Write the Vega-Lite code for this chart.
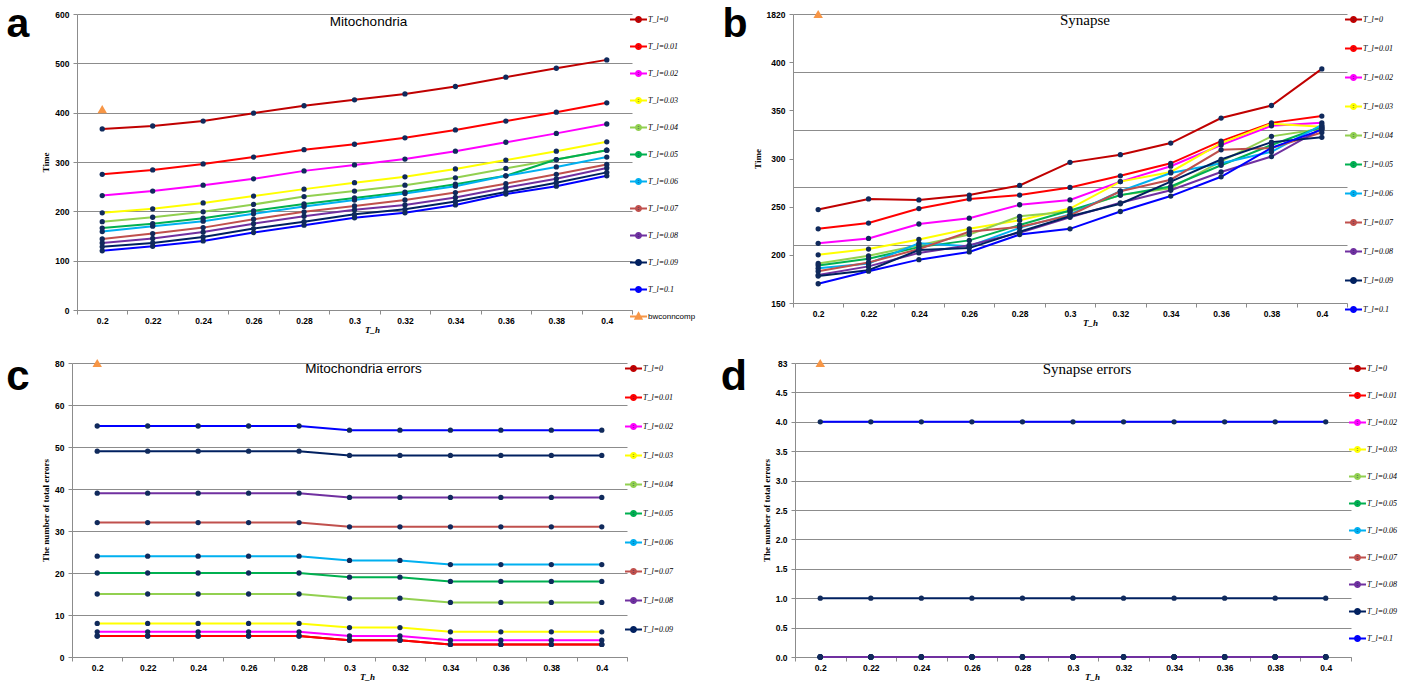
{
  "$schema": "https://vega.github.io/schema/vega-lite/v6.json",
  "padding": 0,
  "background": "white",
  "datasets": {
    "mito": [
      {"th": 0.2, "T_l=0": 367, "T_l=0.01": 275, "T_l=0.02": 232, "T_l=0.03": 197, "T_l=0.04": 179, "T_l=0.05": 166, "T_l=0.06": 159, "T_l=0.07": 144, "T_l=0.08": 136, "T_l=0.09": 128, "T_l=0.1": 120, "bwconncomp": 407},
      {"th": 0.22, "T_l=0": 373, "T_l=0.01": 284, "T_l=0.02": 241, "T_l=0.03": 205, "T_l=0.04": 188, "T_l=0.05": 175, "T_l=0.06": 170, "T_l=0.07": 155, "T_l=0.08": 145, "T_l=0.09": 136, "T_l=0.1": 129},
      {"th": 0.24, "T_l=0": 383, "T_l=0.01": 296, "T_l=0.02": 253, "T_l=0.03": 217, "T_l=0.04": 199, "T_l=0.05": 186, "T_l=0.06": 180, "T_l=0.07": 167, "T_l=0.08": 158, "T_l=0.09": 148, "T_l=0.1": 140},
      {"th": 0.26, "T_l=0": 399, "T_l=0.01": 310, "T_l=0.02": 266, "T_l=0.03": 231, "T_l=0.04": 214, "T_l=0.05": 201, "T_l=0.06": 195, "T_l=0.07": 184, "T_l=0.08": 175, "T_l=0.09": 165, "T_l=0.1": 157},
      {"th": 0.28, "T_l=0": 414, "T_l=0.01": 325, "T_l=0.02": 282, "T_l=0.03": 245, "T_l=0.04": 230, "T_l=0.05": 215, "T_l=0.06": 210, "T_l=0.07": 199, "T_l=0.08": 190, "T_l=0.09": 179, "T_l=0.1": 172},
      {"th": 0.3, "T_l=0": 426, "T_l=0.01": 336, "T_l=0.02": 294, "T_l=0.03": 258, "T_l=0.04": 241, "T_l=0.05": 227, "T_l=0.06": 223, "T_l=0.07": 211, "T_l=0.08": 203, "T_l=0.09": 194, "T_l=0.1": 187},
      {"th": 0.32, "T_l=0": 438, "T_l=0.01": 349, "T_l=0.02": 306, "T_l=0.03": 270, "T_l=0.04": 253, "T_l=0.05": 239, "T_l=0.06": 236, "T_l=0.07": 223, "T_l=0.08": 213, "T_l=0.09": 204, "T_l=0.1": 197},
      {"th": 0.34, "T_l=0": 453, "T_l=0.01": 365, "T_l=0.02": 322, "T_l=0.03": 286, "T_l=0.04": 268, "T_l=0.05": 255, "T_l=0.06": 251, "T_l=0.07": 238, "T_l=0.08": 228, "T_l=0.09": 220, "T_l=0.1": 213},
      {"th": 0.36, "T_l=0": 472, "T_l=0.01": 383, "T_l=0.02": 340, "T_l=0.03": 304, "T_l=0.04": 287, "T_l=0.05": 272, "T_l=0.06": 272, "T_l=0.07": 256, "T_l=0.08": 248, "T_l=0.09": 239, "T_l=0.1": 235},
      {"th": 0.38, "T_l=0": 490, "T_l=0.01": 401, "T_l=0.02": 358, "T_l=0.03": 322, "T_l=0.04": 305, "T_l=0.05": 305, "T_l=0.06": 290, "T_l=0.07": 275, "T_l=0.08": 266, "T_l=0.09": 258, "T_l=0.1": 251},
      {"th": 0.4, "T_l=0": 507, "T_l=0.01": 420, "T_l=0.02": 377, "T_l=0.03": 341, "T_l=0.04": 324, "T_l=0.05": 324, "T_l=0.06": 310, "T_l=0.07": 295, "T_l=0.08": 288, "T_l=0.09": 279, "T_l=0.1": 272}
    ],
    "syn": [
      {"th": 0.2, "T_l=0": 247, "T_l=0.01": 227, "T_l=0.02": 212, "T_l=0.03": 200, "T_l=0.04": 191, "T_l=0.05": 189, "T_l=0.06": 186, "T_l=0.07": 183, "T_l=0.08": 179, "T_l=0.09": 178, "T_l=0.1": 170, "bwconncomp": 1820},
      {"th": 0.22, "T_l=0": 258, "T_l=0.01": 233, "T_l=0.02": 217, "T_l=0.03": 206, "T_l=0.04": 199, "T_l=0.05": 196, "T_l=0.06": 191, "T_l=0.07": 192, "T_l=0.08": 188, "T_l=0.09": 184, "T_l=0.1": 183},
      {"th": 0.24, "T_l=0": 257, "T_l=0.01": 248, "T_l=0.02": 232, "T_l=0.03": 216, "T_l=0.04": 210, "T_l=0.05": 208, "T_l=0.06": 212, "T_l=0.07": 206, "T_l=0.08": 202, "T_l=0.09": 205, "T_l=0.1": 195},
      {"th": 0.26, "T_l=0": 262, "T_l=0.01": 258, "T_l=0.02": 238, "T_l=0.03": 227, "T_l=0.04": 221, "T_l=0.05": 215, "T_l=0.06": 209, "T_l=0.07": 224, "T_l=0.08": 210, "T_l=0.09": 207, "T_l=0.1": 203},
      {"th": 0.28, "T_l=0": 272, "T_l=0.01": 262, "T_l=0.02": 252, "T_l=0.03": 236, "T_l=0.04": 240, "T_l=0.05": 231, "T_l=0.06": 228, "T_l=0.07": 229, "T_l=0.08": 223, "T_l=0.09": 224, "T_l=0.1": 221},
      {"th": 0.3, "T_l=0": 296, "T_l=0.01": 270, "T_l=0.02": 257, "T_l=0.03": 248, "T_l=0.04": 245, "T_l=0.05": 246, "T_l=0.06": 242, "T_l=0.07": 241, "T_l=0.08": 239, "T_l=0.09": 240, "T_l=0.1": 227},
      {"th": 0.32, "T_l=0": 304, "T_l=0.01": 282, "T_l=0.02": 276, "T_l=0.03": 276, "T_l=0.04": 262, "T_l=0.05": 262, "T_l=0.06": 266, "T_l=0.07": 266, "T_l=0.08": 254, "T_l=0.09": 253, "T_l=0.1": 245},
      {"th": 0.34, "T_l=0": 316, "T_l=0.01": 295, "T_l=0.02": 292, "T_l=0.03": 286, "T_l=0.04": 269, "T_l=0.05": 271, "T_l=0.06": 285, "T_l=0.07": 278, "T_l=0.08": 267, "T_l=0.09": 276, "T_l=0.1": 261},
      {"th": 0.36, "T_l=0": 342, "T_l=0.01": 318, "T_l=0.02": 314, "T_l=0.03": 316, "T_l=0.04": 297, "T_l=0.05": 293, "T_l=0.06": 295, "T_l=0.07": 309, "T_l=0.08": 286, "T_l=0.09": 299, "T_l=0.1": 281},
      {"th": 0.38, "T_l=0": 355, "T_l=0.01": 337, "T_l=0.02": 334, "T_l=0.03": 336, "T_l=0.04": 323, "T_l=0.05": 314, "T_l=0.06": 307, "T_l=0.07": 311, "T_l=0.08": 302, "T_l=0.09": 317, "T_l=0.1": 311},
      {"th": 0.4, "T_l=0": 393, "T_l=0.01": 344, "T_l=0.02": 337, "T_l=0.03": 333, "T_l=0.04": 331, "T_l=0.05": 333, "T_l=0.06": 335, "T_l=0.07": 327, "T_l=0.08": 331, "T_l=0.09": 322, "T_l=0.1": 330}
    ],
    "mitoerr": [
      {"th": 0.2, "T_l=0": 5, "T_l=0.01": 5, "T_l=0.02": 6, "T_l=0.03": 8, "T_l=0.04": 15, "T_l=0.05": 20, "T_l=0.06": 24, "T_l=0.07": 32, "T_l=0.08": 39, "T_l=0.09": 49, "T_l=0.1": 55, "bwconncomp": 80},
      {"th": 0.22, "T_l=0": 5, "T_l=0.01": 5, "T_l=0.02": 6, "T_l=0.03": 8, "T_l=0.04": 15, "T_l=0.05": 20, "T_l=0.06": 24, "T_l=0.07": 32, "T_l=0.08": 39, "T_l=0.09": 49, "T_l=0.1": 55},
      {"th": 0.24, "T_l=0": 5, "T_l=0.01": 5, "T_l=0.02": 6, "T_l=0.03": 8, "T_l=0.04": 15, "T_l=0.05": 20, "T_l=0.06": 24, "T_l=0.07": 32, "T_l=0.08": 39, "T_l=0.09": 49, "T_l=0.1": 55},
      {"th": 0.26, "T_l=0": 5, "T_l=0.01": 5, "T_l=0.02": 6, "T_l=0.03": 8, "T_l=0.04": 15, "T_l=0.05": 20, "T_l=0.06": 24, "T_l=0.07": 32, "T_l=0.08": 39, "T_l=0.09": 49, "T_l=0.1": 55},
      {"th": 0.28, "T_l=0": 5, "T_l=0.01": 5, "T_l=0.02": 6, "T_l=0.03": 8, "T_l=0.04": 15, "T_l=0.05": 20, "T_l=0.06": 24, "T_l=0.07": 32, "T_l=0.08": 39, "T_l=0.09": 49, "T_l=0.1": 55},
      {"th": 0.3, "T_l=0": 4, "T_l=0.01": 4, "T_l=0.02": 5, "T_l=0.03": 7, "T_l=0.04": 14, "T_l=0.05": 19, "T_l=0.06": 23, "T_l=0.07": 31, "T_l=0.08": 38, "T_l=0.09": 48, "T_l=0.1": 54},
      {"th": 0.32, "T_l=0": 4, "T_l=0.01": 4, "T_l=0.02": 5, "T_l=0.03": 7, "T_l=0.04": 14, "T_l=0.05": 19, "T_l=0.06": 23, "T_l=0.07": 31, "T_l=0.08": 38, "T_l=0.09": 48, "T_l=0.1": 54},
      {"th": 0.34, "T_l=0": 3, "T_l=0.01": 3, "T_l=0.02": 4, "T_l=0.03": 6, "T_l=0.04": 13, "T_l=0.05": 18, "T_l=0.06": 22, "T_l=0.07": 31, "T_l=0.08": 38, "T_l=0.09": 48, "T_l=0.1": 54},
      {"th": 0.36, "T_l=0": 3, "T_l=0.01": 3, "T_l=0.02": 4, "T_l=0.03": 6, "T_l=0.04": 13, "T_l=0.05": 18, "T_l=0.06": 22, "T_l=0.07": 31, "T_l=0.08": 38, "T_l=0.09": 48, "T_l=0.1": 54},
      {"th": 0.38, "T_l=0": 3, "T_l=0.01": 3, "T_l=0.02": 4, "T_l=0.03": 6, "T_l=0.04": 13, "T_l=0.05": 18, "T_l=0.06": 22, "T_l=0.07": 31, "T_l=0.08": 38, "T_l=0.09": 48, "T_l=0.1": 54},
      {"th": 0.4, "T_l=0": 3, "T_l=0.01": 3, "T_l=0.02": 4, "T_l=0.03": 6, "T_l=0.04": 13, "T_l=0.05": 18, "T_l=0.06": 22, "T_l=0.07": 31, "T_l=0.08": 38, "T_l=0.09": 48, "T_l=0.1": 54}
    ],
    "synerr": [
      {"th": 0.2, "T_l=0": 0, "T_l=0.01": 0, "T_l=0.02": 0, "T_l=0.03": 0, "T_l=0.04": 0, "T_l=0.05": 0, "T_l=0.06": 0, "T_l=0.07": 0, "T_l=0.08": 0, "T_l=0.09": 1, "T_l=0.1": 4, "bwconncomp": 83},
      {"th": 0.22, "T_l=0": 0, "T_l=0.01": 0, "T_l=0.02": 0, "T_l=0.03": 0, "T_l=0.04": 0, "T_l=0.05": 0, "T_l=0.06": 0, "T_l=0.07": 0, "T_l=0.08": 0, "T_l=0.09": 1, "T_l=0.1": 4},
      {"th": 0.24, "T_l=0": 0, "T_l=0.01": 0, "T_l=0.02": 0, "T_l=0.03": 0, "T_l=0.04": 0, "T_l=0.05": 0, "T_l=0.06": 0, "T_l=0.07": 0, "T_l=0.08": 0, "T_l=0.09": 1, "T_l=0.1": 4},
      {"th": 0.26, "T_l=0": 0, "T_l=0.01": 0, "T_l=0.02": 0, "T_l=0.03": 0, "T_l=0.04": 0, "T_l=0.05": 0, "T_l=0.06": 0, "T_l=0.07": 0, "T_l=0.08": 0, "T_l=0.09": 1, "T_l=0.1": 4},
      {"th": 0.28, "T_l=0": 0, "T_l=0.01": 0, "T_l=0.02": 0, "T_l=0.03": 0, "T_l=0.04": 0, "T_l=0.05": 0, "T_l=0.06": 0, "T_l=0.07": 0, "T_l=0.08": 0, "T_l=0.09": 1, "T_l=0.1": 4},
      {"th": 0.3, "T_l=0": 0, "T_l=0.01": 0, "T_l=0.02": 0, "T_l=0.03": 0, "T_l=0.04": 0, "T_l=0.05": 0, "T_l=0.06": 0, "T_l=0.07": 0, "T_l=0.08": 0, "T_l=0.09": 1, "T_l=0.1": 4},
      {"th": 0.32, "T_l=0": 0, "T_l=0.01": 0, "T_l=0.02": 0, "T_l=0.03": 0, "T_l=0.04": 0, "T_l=0.05": 0, "T_l=0.06": 0, "T_l=0.07": 0, "T_l=0.08": 0, "T_l=0.09": 1, "T_l=0.1": 4},
      {"th": 0.34, "T_l=0": 0, "T_l=0.01": 0, "T_l=0.02": 0, "T_l=0.03": 0, "T_l=0.04": 0, "T_l=0.05": 0, "T_l=0.06": 0, "T_l=0.07": 0, "T_l=0.08": 0, "T_l=0.09": 1, "T_l=0.1": 4},
      {"th": 0.36, "T_l=0": 0, "T_l=0.01": 0, "T_l=0.02": 0, "T_l=0.03": 0, "T_l=0.04": 0, "T_l=0.05": 0, "T_l=0.06": 0, "T_l=0.07": 0, "T_l=0.08": 0, "T_l=0.09": 1, "T_l=0.1": 4},
      {"th": 0.38, "T_l=0": 0, "T_l=0.01": 0, "T_l=0.02": 0, "T_l=0.03": 0, "T_l=0.04": 0, "T_l=0.05": 0, "T_l=0.06": 0, "T_l=0.07": 0, "T_l=0.08": 0, "T_l=0.09": 1, "T_l=0.1": 4},
      {"th": 0.4, "T_l=0": 0, "T_l=0.01": 0, "T_l=0.02": 0, "T_l=0.03": 0, "T_l=0.04": 0, "T_l=0.05": 0, "T_l=0.06": 0, "T_l=0.07": 0, "T_l=0.08": 0, "T_l=0.09": 1, "T_l=0.1": 4}
    ]
  },
  "config": {
    "view": {"stroke": null},
    "axis": {"labelFont": "Liberation Sans", "labelFontSize": 8.5, "labelFontWeight": "bold", "labelColor": "#000000", "domainColor": "#8c8c8c", "tickColor": "#8c8c8c", "gridColor": "#8c8c8c", "gridWidth": 1, "titleFont": "Liberation Serif", "titleFontWeight": "bold", "titleFontSize": 9, "titleColor": "#000000"},
    "legend": {"title": null, "orient": "right", "offset": 1, "padding": 0, "symbolType": "M-2,0H2M-0.6,0A0.6,0.6 0 1,0 0.6,0A0.6,0.6 0 1,0 -0.6,0Z", "symbolSize": 72, "symbolStrokeWidth": 2, "symbolFillColor": "#102a5c", "labelFont": "Liberation Serif", "labelFontStyle": "italic", "labelFontSize": 8, "labelColor": "#000000", "labelOffset": 4},
    "title": {"anchor": "middle", "frame": "group", "color": "#000000", "fontWeight": "normal"}
  },
  "resolve": {"scale": {"color": "independent"}, "legend": {"color": "independent"}},
  "spacing": 20,
  "vconcat": [
    {
      "spacing": 21,
      "resolve": {"scale": {"color": "independent"}, "legend": {"color": "independent"}},
      "hconcat": [
        {
          "spacing": 5,
          "resolve": {"scale": {"color": "independent"}, "legend": {"color": "independent"}},
          "hconcat": [
            {"width": 36, "height": 46, "data": {"values": [{"letter": "a"}]}, "mark": {"type": "text", "font": "Liberation Sans", "fontSize": 41, "fontWeight": "bold", "baseline": "alphabetic", "align": "center", "color": "#000000"}, "encoding": {"text": {"field": "letter"}}},
            {
              "width": 555, "height": 296,
              "data": {"name": "mito"},
              "transform": [{"fold": ["T_l=0", "T_l=0\\.01", "T_l=0\\.02", "T_l=0\\.03", "T_l=0\\.04", "T_l=0\\.05", "T_l=0\\.06", "T_l=0\\.07", "T_l=0\\.08", "T_l=0\\.09", "T_l=0\\.1", "bwconncomp"], "as": ["series", "v"]}],
              "title": {"text": "Mitochondria", "font": "Liberation Sans", "fontSize": 13.5, "offset": -28, "dx": 14},
              "layer": [
                {
                  "mark": {"type": "line", "strokeWidth": 2},
                  "encoding": {
                    "x": {"field": "th", "type": "ordinal", "scale": {"type": "band", "paddingInner": 0, "paddingOuter": 0}, "axis": {"orient": "bottom", "title": "T_h", "titleFontStyle": "italic", "tickBand": "extent", "labelAngle": 0, "tickSize": 4, "labelPadding": 2, "titlePadding": 1, "grid": false, "titleX": 295}},
                    "y": {"field": "v", "type": "quantitative", "scale": {"domain": [0, 600], "nice": false}, "axis": {"orient": "left", "title": "Time", "values": [0, 100, 200, 300, 400, 500, 600], "grid": true, "tickSize": 4, "labelPadding": 4, "titlePadding": 4}},
                    "color": {"field": "series", "type": "nominal",
                      "scale": {"domain": ["T_l=0", "T_l=0.01", "T_l=0.02", "T_l=0.03", "T_l=0.04", "T_l=0.05", "T_l=0.06", "T_l=0.07", "T_l=0.08", "T_l=0.09", "T_l=0.1", "bwconncomp"], "range": ["#C00000", "#FF0000", "#FF00FF", "#FFFF00", "#92D050", "#00B050", "#00B0F0", "#C0504D", "#7030A0", "#002060", "#0000FF", "#F79646"]},
                      "legend": {"rowPadding": 12,
                        "encode": {
                          "symbols": {"update": {"shape": {"signal": "datum.value === 'bwconncomp' ? 'M-2,0H2M0,-0.75L0.7,0.55L-0.7,0.55Z' : 'M-2,0H2M-0.6,0A0.6,0.6 0 1,0 0.6,0A0.6,0.6 0 1,0 -0.6,0Z'"}, "fill": {"signal": "datum.value === 'bwconncomp' ? '#F79646' : '#102a5c'"}}},
                          "labels": {"update": {"font": {"signal": "datum.value === 'bwconncomp' ? 'Liberation Sans' : 'Liberation Serif'"}, "fontStyle": {"signal": "datum.value === 'bwconncomp' ? 'normal' : 'italic'"}}}
                        }}}
                  }
                },
                {
                  "mark": {"type": "point", "filled": true, "opacity": 1, "strokeWidth": 0},
                  "encoding": {
                    "x": {"field": "th", "type": "ordinal", "scale": {"type": "band", "paddingInner": 0, "paddingOuter": 0}, "axis": {"orient": "top", "labels": false, "ticks": false, "domain": false, "grid": false, "title": null, "minExtent": 14, "maxExtent": 14}},
                    "y": {"field": "v", "type": "quantitative", "axis": {"orient": "right", "labels": false, "ticks": false, "domain": false, "grid": false, "title": null}},
                    "shape": {"condition": {"test": "datum.series === 'bwconncomp'", "value": "triangle-up"}, "value": "circle"},
                    "fill": {"condition": {"test": "datum.series === 'bwconncomp'", "value": "#F79646"}, "value": "#102a5c"},
                    "size": {"condition": {"test": "datum.series === 'bwconncomp'", "value": 90}, "value": 28}
                  }
                }
              ]
            }
          ]
        },
        {
          "spacing": 0,
          "resolve": {"scale": {"color": "independent"}, "legend": {"color": "independent"}},
          "hconcat": [
            {"width": 36, "height": 46, "data": {"values": [{"letter": "b"}]}, "mark": {"type": "text", "font": "Liberation Sans", "fontSize": 41, "fontWeight": "bold", "baseline": "alphabetic", "align": "center", "color": "#000000"}, "encoding": {"text": {"field": "letter"}}},
            {
              "width": 554, "height": 289,
              "data": {"name": "syn"},
              "transform": [{"fold": ["T_l=0", "T_l=0\\.01", "T_l=0\\.02", "T_l=0\\.03", "T_l=0\\.04", "T_l=0\\.05", "T_l=0\\.06", "T_l=0\\.07", "T_l=0\\.08", "T_l=0\\.09", "T_l=0\\.1", "bwconncomp"], "as": ["series", "v"]}],
              "title": {"text": "Synapse", "font": "Liberation Serif", "fontSize": 15, "offset": -28, "dx": 15},
              "layer": [
                {
                  "mark": {"type": "line", "strokeWidth": 2},
                  "encoding": {
                    "x": {"field": "th", "type": "ordinal", "scale": {"type": "band", "paddingInner": 0, "paddingOuter": 0}, "axis": {"orient": "bottom", "title": "T_h", "titleFontStyle": "italic", "tickBand": "extent", "labelAngle": 0, "tickSize": 4, "labelPadding": 2, "titlePadding": 1, "grid": false, "titleX": 297}},
                    "y": {"field": "v", "type": "quantitative", "scale": {"domain": [150, 450], "nice": false, "clamp": true}, "axis": {"orient": "left", "title": "Time", "values": [150, 200, 250, 300, 350, 400, 450], "labelExpr": "datum.value == 450 ? '1820' : datum.label", "grid": false, "tickSize": 4, "labelPadding": 4, "titlePadding": 4}},
                    "color": {"field": "series", "type": "nominal",
                      "scale": {"domain": ["T_l=0", "T_l=0.01", "T_l=0.02", "T_l=0.03", "T_l=0.04", "T_l=0.05", "T_l=0.06", "T_l=0.07", "T_l=0.08", "T_l=0.09", "T_l=0.1", "bwconncomp"], "range": ["#C00000", "#FF0000", "#FF00FF", "#FFFF00", "#92D050", "#00B050", "#00B0F0", "#C0504D", "#7030A0", "#002060", "#0000FF", "#F79646"]},
                      "legend": {"rowPadding": 14, "values": ["T_l=0", "T_l=0.01", "T_l=0.02", "T_l=0.03", "T_l=0.04", "T_l=0.05", "T_l=0.06", "T_l=0.07", "T_l=0.08", "T_l=0.09", "T_l=0.1"]}}
                  }
                },
                {
                  "mark": {"type": "point", "filled": true, "opacity": 1, "strokeWidth": 0},
                  "encoding": {
                    "x": {"field": "th", "type": "ordinal", "scale": {"type": "band", "paddingInner": 0, "paddingOuter": 0}, "axis": {"orient": "top", "labels": false, "ticks": false, "domain": false, "grid": false, "title": null, "minExtent": 14, "maxExtent": 14}},
                    "y": {"field": "v", "type": "quantitative", "axis": {"orient": "right", "values": [210, 270, 330, 390, 450], "grid": true, "labels": false, "ticks": false, "domain": false, "title": null}},
                    "shape": {"condition": {"test": "datum.series === 'bwconncomp'", "value": "triangle-up"}, "value": "circle"},
                    "fill": {"condition": {"test": "datum.series === 'bwconncomp'", "value": "#F79646"}, "value": "#102a5c"},
                    "size": {"condition": {"test": "datum.series === 'bwconncomp'", "value": 90}, "value": 28}
                  }
                }
              ]
            }
          ]
        }
      ]
    },
    {
      "spacing": 42,
      "resolve": {"scale": {"color": "independent"}, "legend": {"color": "independent"}},
      "hconcat": [
        {
          "spacing": 5,
          "resolve": {"scale": {"color": "independent"}, "legend": {"color": "independent"}},
          "hconcat": [
            {"width": 36, "height": 54, "data": {"values": [{"letter": "c"}]}, "mark": {"type": "text", "font": "Liberation Sans", "fontSize": 42, "fontWeight": "bold", "baseline": "alphabetic", "align": "center", "color": "#000000"}, "encoding": {"text": {"field": "letter"}}},
            {
              "width": 555, "height": 294,
              "data": {"name": "mitoerr"},
              "transform": [{"fold": ["T_l=0", "T_l=0\\.01", "T_l=0\\.02", "T_l=0\\.03", "T_l=0\\.04", "T_l=0\\.05", "T_l=0\\.06", "T_l=0\\.07", "T_l=0\\.08", "T_l=0\\.09", "T_l=0\\.1", "bwconncomp"], "as": ["series", "v"]}],
              "title": {"text": "Mitochondria errors", "font": "Liberation Sans", "fontSize": 13.5, "offset": -20, "dx": 14},
              "layer": [
                {
                  "mark": {"type": "line", "strokeWidth": 2},
                  "encoding": {
                    "x": {"field": "th", "type": "ordinal", "scale": {"type": "band", "paddingInner": 0, "paddingOuter": 0}, "axis": {"orient": "bottom", "title": "T_h", "titleFontStyle": "italic", "tickBand": "extent", "labelAngle": 0, "tickSize": 4, "labelPadding": 2, "titlePadding": 1, "grid": false, "titleX": 295}},
                    "y": {"field": "v", "type": "quantitative", "scale": {"domain": [0, 70], "nice": false, "clamp": true}, "axis": {"orient": "left", "title": "The number of  total errors", "values": [0, 10, 20, 30, 40, 50, 60, 70], "labelExpr": "datum.value == 70 ? '80' : datum.label", "grid": true, "tickSize": 4, "labelPadding": 4, "titlePadding": 4}},
                    "color": {"field": "series", "type": "nominal",
                      "scale": {"domain": ["T_l=0", "T_l=0.01", "T_l=0.02", "T_l=0.03", "T_l=0.04", "T_l=0.05", "T_l=0.06", "T_l=0.07", "T_l=0.08", "T_l=0.09", "T_l=0.1", "bwconncomp"], "range": ["#C00000", "#FF0000", "#FF00FF", "#FFFF00", "#92D050", "#00B050", "#00B0F0", "#C0504D", "#7030A0", "#002060", "#0000FF", "#F79646"]},
                      "legend": {"rowPadding": 14, "values": ["T_l=0", "T_l=0.01", "T_l=0.02", "T_l=0.03", "T_l=0.04", "T_l=0.05", "T_l=0.06", "T_l=0.07", "T_l=0.08", "T_l=0.09"]}}
                  }
                },
                {
                  "mark": {"type": "point", "filled": true, "opacity": 1, "strokeWidth": 0},
                  "encoding": {
                    "x": {"field": "th", "type": "ordinal", "scale": {"type": "band", "paddingInner": 0, "paddingOuter": 0}, "axis": {"orient": "top", "labels": false, "ticks": false, "domain": false, "grid": false, "title": null, "minExtent": 8, "maxExtent": 8}},
                    "y": {"field": "v", "type": "quantitative", "axis": {"orient": "right", "labels": false, "ticks": false, "domain": false, "grid": false, "title": null}},
                    "shape": {"condition": {"test": "datum.series === 'bwconncomp'", "value": "triangle-up"}, "value": "circle"},
                    "fill": {"condition": {"test": "datum.series === 'bwconncomp'", "value": "#F79646"}, "value": "#102a5c"},
                    "size": {"condition": {"test": "datum.series === 'bwconncomp'", "value": 90}, "value": 28}
                  }
                }
              ]
            }
          ]
        },
        {
          "spacing": 10,
          "resolve": {"scale": {"color": "independent"}, "legend": {"color": "independent"}},
          "hconcat": [
            {"width": 36, "height": 54, "data": {"values": [{"letter": "d"}]}, "mark": {"type": "text", "font": "Liberation Sans", "fontSize": 43, "fontWeight": "bold", "baseline": "alphabetic", "align": "center", "color": "#000000"}, "encoding": {"text": {"field": "letter"}}},
            {
              "width": 556, "height": 294,
              "data": {"name": "synerr"},
              "transform": [{"fold": ["T_l=0", "T_l=0\\.01", "T_l=0\\.02", "T_l=0\\.03", "T_l=0\\.04", "T_l=0\\.05", "T_l=0\\.06", "T_l=0\\.07", "T_l=0\\.08", "T_l=0\\.09", "T_l=0\\.1", "bwconncomp"], "as": ["series", "v"]}],
              "title": {"text": "Synapse errors", "font": "Liberation Serif", "fontSize": 15, "offset": -22, "dx": 14},
              "layer": [
                {
                  "mark": {"type": "line", "strokeWidth": 2},
                  "encoding": {
                    "x": {"field": "th", "type": "ordinal", "scale": {"type": "band", "paddingInner": 0, "paddingOuter": 0}, "axis": {"orient": "bottom", "title": "T_h", "titleFontStyle": "italic", "tickBand": "extent", "labelAngle": 0, "tickSize": 4, "labelPadding": 2, "titlePadding": 1, "grid": false, "titleX": 297}},
                    "y": {"field": "v", "type": "quantitative", "scale": {"domain": [0, 5], "nice": false, "clamp": true}, "axis": {"orient": "left", "title": "The number of  total errors", "values": [0, 0.5, 1, 1.5, 2, 2.5, 3, 3.5, 4, 4.5, 5], "format": ".1f", "labelExpr": "datum.value == 5 ? '83' : datum.label", "grid": true, "tickSize": 4, "labelPadding": 4, "titlePadding": 4}},
                    "color": {"field": "series", "type": "nominal",
                      "scale": {"domain": ["T_l=0", "T_l=0.01", "T_l=0.02", "T_l=0.03", "T_l=0.04", "T_l=0.05", "T_l=0.06", "T_l=0.07", "T_l=0.08", "T_l=0.09", "T_l=0.1", "bwconncomp"], "range": ["#C00000", "#FF0000", "#FF00FF", "#FFFF00", "#92D050", "#00B050", "#00B0F0", "#C0504D", "#7030A0", "#002060", "#0000FF", "#F79646"]},
                      "legend": {"rowPadding": 12, "values": ["T_l=0", "T_l=0.01", "T_l=0.02", "T_l=0.03", "T_l=0.04", "T_l=0.05", "T_l=0.06", "T_l=0.07", "T_l=0.08", "T_l=0.09", "T_l=0.1"]}}
                  }
                },
                {
                  "mark": {"type": "point", "filled": true, "opacity": 1, "strokeWidth": 0},
                  "encoding": {
                    "x": {"field": "th", "type": "ordinal", "scale": {"type": "band", "paddingInner": 0, "paddingOuter": 0}, "axis": {"orient": "top", "labels": false, "ticks": false, "domain": false, "grid": false, "title": null, "minExtent": 8, "maxExtent": 8}},
                    "y": {"field": "v", "type": "quantitative", "axis": {"orient": "right", "labels": false, "ticks": false, "domain": false, "grid": false, "title": null}},
                    "shape": {"condition": {"test": "datum.series === 'bwconncomp'", "value": "triangle-up"}, "value": "circle"},
                    "fill": {"condition": {"test": "datum.series === 'bwconncomp'", "value": "#F79646"}, "value": "#102a5c"},
                    "size": {"condition": {"test": "datum.series === 'bwconncomp'", "value": 90}, "value": 28}
                  }
                }
              ]
            }
          ]
        }
      ]
    }
  ]
}
